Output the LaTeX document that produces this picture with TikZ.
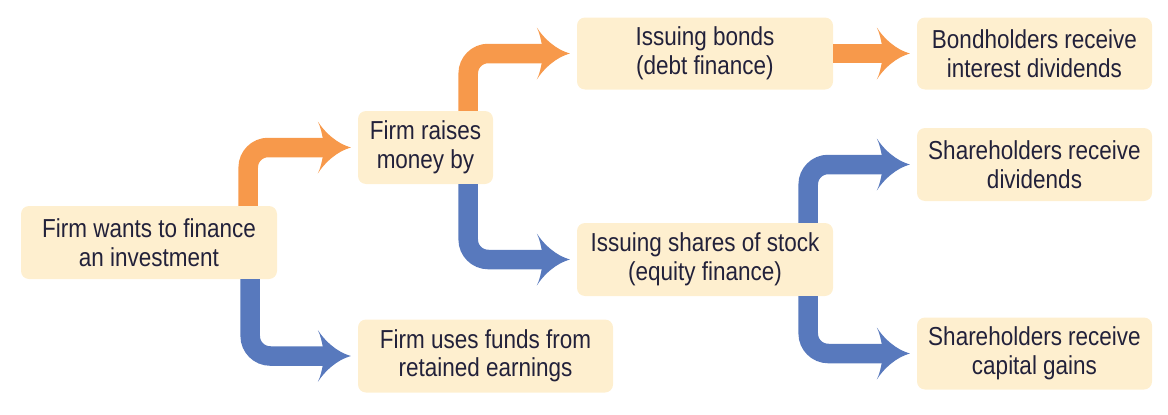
\documentclass[tikz,border=0pt]{standalone}
\usepackage{fontspec}
\setmainfont{Liberation Sans}[FakeStretch=0.865]
\usetikzlibrary{positioning}
\definecolor{orangec}{HTML}{F7994B}
\definecolor{bluec}{HTML}{5879BD}
\definecolor{boxfill}{HTML}{FEEFCF}
\definecolor{textc}{HTML}{22213A}
\pgfdeclarearrow{
  name = Swoop,
  setup code = {
    \pgfarrowssettipend{0pt}
    \pgfarrowssetlineend{-22pt}
    \pgfarrowssetvisualbackend{-33pt}
    \pgfarrowssetbackend{-33pt}
    \pgfarrowshullpoint{0pt}{0pt}
    \pgfarrowshullpoint{-33pt}{26pt}
    \pgfarrowshullpoint{-33pt}{-26pt}
  },
  drawing code = {
    \pgfpathmoveto{\pgfpoint{0pt}{0pt}}
    \pgfpathcurveto{\pgfpoint{-14pt}{4pt}}{\pgfpoint{-26pt}{15pt}}{\pgfpoint{-33pt}{26pt}}
    \pgfpathcurveto{\pgfpoint{-30pt}{20pt}}{\pgfpoint{-29pt}{14pt}}{\pgfpoint{-28pt}{9pt}}
    \pgfpathlineto{\pgfpoint{-28pt}{-9pt}}
    \pgfpathcurveto{\pgfpoint{-29pt}{-14pt}}{\pgfpoint{-30pt}{-20pt}}{\pgfpoint{-33pt}{-26pt}}
    \pgfpathcurveto{\pgfpoint{-26pt}{-15pt}}{\pgfpoint{-14pt}{-4pt}}{\pgfpoint{0pt}{0pt}}
    \pgfpathclose
    \pgfusepathqfill
  },
  defaults = {}
}
\tikzset{
  fbox/.style={fill=boxfill, draw=none, rounded corners=8pt, inner sep=0pt,
    align=center, text=textc, font=\fontsize{26}{28.5}\selectfont},
  conn/.style={line width=19.5pt, rounded corners=20pt, -{Swoop}, shorten >=7pt},
  oarrow/.style={conn, draw=orangec},
  barrow/.style={conn, draw=bluec}
}
\begin{document}
\begin{tikzpicture}[x=1pt,y=-1pt]
\useasboundingbox (0,0) rectangle (1168,415);
\node[fbox, minimum width=256pt, minimum height=73pt] (A) at (149,242.5) {Firm wants to finance\\an investment};
\node[fbox, minimum width=135pt, minimum height=73pt] (B) at (425.5,147.5) {Firm raises\\money by};
\node[fbox, minimum width=255pt, minimum height=73pt] (C) at (485.5,356) {Firm uses funds from\\retained earnings};
\node[fbox, minimum width=256pt, minimum height=72pt] (D) at (705,53.5) {Issuing bonds\\(debt finance)};
\node[fbox, minimum width=256pt, minimum height=73pt] (E) at (705,259.5) {Issuing shares of stock\\(equity finance)};
\node[fbox, minimum width=235pt, minimum height=72pt] (F) at (1034.5,53.5) {Bondholders receive\\interest dividends};
\node[fbox, minimum width=235pt, minimum height=73pt] (G) at (1034.5,164.5) {Shareholders receive\\dividends};
\node[fbox, minimum width=235pt, minimum height=72pt] (H) at (1034.5,353.5) {Shareholders receive\\capital gains};
\draw[oarrow] ([xshift=-29pt]A.north east) |- (B.west);
\draw[barrow] ([xshift=-27pt]A.south east) |- (C.west);
\draw[oarrow] ([xshift=-25pt]B.north east) |- (D.west);
\draw[barrow] ([xshift=-25pt]B.south east) |- (E.west);
\draw[oarrow] (D.east) -- (F.west);
\draw[barrow] ([xshift=-25pt]E.north east) |- (G.west);
\draw[barrow] ([xshift=-25pt]E.south east) |- (H.west);
\end{tikzpicture}
\end{document}
